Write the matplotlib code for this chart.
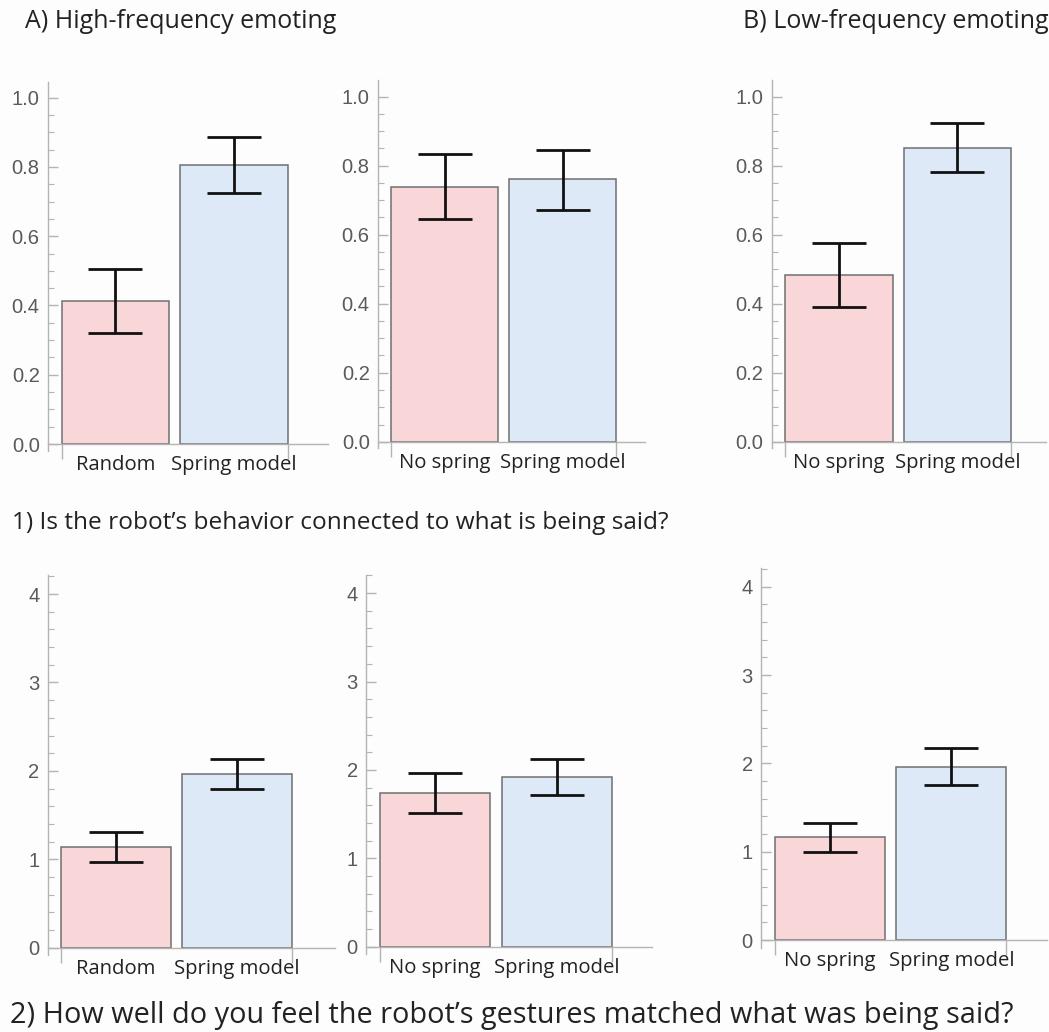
import matplotlib.pyplot as plt
from matplotlib.ticker import MultipleLocator, FormatStrFormatter

plt.rcParams['font.family'] = ['Open Sans', 'DejaVu Sans']

W, H = 1049, 1032

pink = '#f9d6d7'
blue = '#dde9f6'
edge = '#707070'
axis_gray = '#b4b4b4'

labels_random = ['Random', 'Spring model']
labels_spring = ['No spring', 'Spring model']

# 1) Is the robot's behavior connected to what is being said?  (proportion)
q1_hf_random = [0.413, 0.806]
q1_hf_random_ci = [(0.320, 0.504), (0.726, 0.885)]
q1_hf_spring = [0.738, 0.760]
q1_hf_spring_ci = [(0.645, 0.833), (0.672, 0.846)]
q1_lf_spring = [0.483, 0.851]
q1_lf_spring_ci = [(0.390, 0.575), (0.781, 0.923)]

# 2) How well do the gestures match the speech?  (rating)
q2_hf_random = [1.139, 1.961]
q2_hf_random_ci = [(0.966, 1.305), (1.792, 2.131)]
q2_hf_spring = [1.742, 1.920]
q2_hf_spring_ci = [(1.509, 1.968), (1.713, 2.127)]
q2_lf_spring = [1.163, 1.962]
q2_lf_spring_ci = [(0.997, 1.321), (1.752, 2.171)]

fig = plt.figure(figsize=(W / 100, H / 100), dpi=100, facecolor='#fdfdfd')


def bar_panel(rect, xlim, ylim, labels, means, ci, major, minor, fmt):
    # rect is (left, right, top, bottom) in pixels
    l, r, t, b = rect
    ax = fig.add_axes([l / W, 1 - b / H, (r - l) / W, (b - t) / H])
    ax.set_facecolor('none')
    x = list(range(len(means)))
    lo = [m - c[0] for m, c in zip(means, ci)]
    hi = [c[1] - m for m, c in zip(means, ci)]
    ax.bar(x, means, width=0.905, color=[pink, blue], edgecolor=edge,
           linewidth=1.1, zorder=2)
    ax.errorbar(x, means, yerr=[lo, hi], fmt='none', ecolor='#111111',
                elinewidth=2.0, capsize=19.5, capthick=2.0, zorder=3)
    ax.set_xlim(xlim)
    ax.set_ylim(ylim)

    for s in ['top', 'right']:
        ax.spines[s].set_visible(False)
    ax.spines['bottom'].set_position(('data', 0))
    for s in ['left', 'bottom']:
        ax.spines[s].set_color(axis_gray)
        ax.spines[s].set_linewidth(1.0)

    ax.yaxis.set_major_locator(MultipleLocator(major))
    ax.yaxis.set_minor_locator(MultipleLocator(minor))
    ax.yaxis.set_major_formatter(FormatStrFormatter(fmt))
    ax.tick_params(axis='y', which='major', direction='in', length=7, width=1,
                   color=axis_gray, labelcolor='#5a5a5a', labelsize=14.5, pad=6,
                   labelfontfamily='Liberation Sans')
    ax.tick_params(axis='y', which='minor', direction='in', length=4, width=0.8,
                   color=axis_gray)

    # edge ticks under the outer bar sides, category names under the bars
    half = 0.905 / 2
    ax.set_xticks([x[0] - half, x[-1] + half])
    ax.set_xticklabels([])
    ax.set_xticks(x, minor=True)
    ax.set_xticklabels(labels, minor=True)
    ax.tick_params(axis='x', which='major', direction='out', length=11, width=1,
                   color=axis_gray)
    ax.tick_params(axis='x', which='minor', length=0, pad=8, labelsize=14.6,
                   labelcolor='#222222')
    return ax


# top row, proportions
bar_panel((48, 328, 82, 451), (-0.568, 1.79), (-0.020, 1.045),
          labels_random, q1_hf_random, q1_hf_random_ci, 0.2, 0.05, '%.1f')
bar_panel((378, 645, 80, 448), (-0.563, 1.694), (-0.018, 1.048),
          labels_spring, q1_hf_spring, q1_hf_spring_ci, 0.2, 0.05, '%.1f')
bar_panel((771.7, 1046, 80, 448), (-0.569, 1.749), (-0.018, 1.048),
          labels_spring, q1_lf_spring, q1_lf_spring_ci, 0.2, 0.05, '%.1f')

# bottom row, ratings
bar_panel((47.7, 335, 575, 955), (-0.5625, 1.81), (-0.083, 4.216),
          labels_random, q2_hf_random, q2_hf_random_ci, 1, 0.2, '%d')
bar_panel((366, 651.7, 575, 954), (-0.567, 1.78), (-0.083, 4.205),
          labels_spring, q2_hf_spring, q2_hf_spring_ci, 1, 0.2, '%d')
bar_panel((761, 1046.7, 568, 948), (-0.569, 1.786), (-0.09, 4.213),
          labels_spring, q2_lf_spring, q2_lf_spring_ci, 1, 0.2, '%d')

title_kw = dict(color='#222222', va='center', ha='left')
fig.text(25 / W, 1 - 22 / H, 'A) High-frequency emoting', fontsize=18, **title_kw)
fig.text(743 / W, 1 - 22 / H, 'B) Low-frequency emoting', fontsize=18, **title_kw)
fig.text(12 / W, 1 - 523 / H,
         '1) Is the robot\u2019s behavior connected to what is being said?',
         fontsize=17.6, **title_kw)
fig.text(10 / W, 1 - 1015 / H,
         '2) How well do you feel the robot\u2019s gestures matched what was being said?',
         fontsize=20.8, **title_kw)

fig.savefig('out.png', dpi=100, facecolor=fig.get_facecolor())
